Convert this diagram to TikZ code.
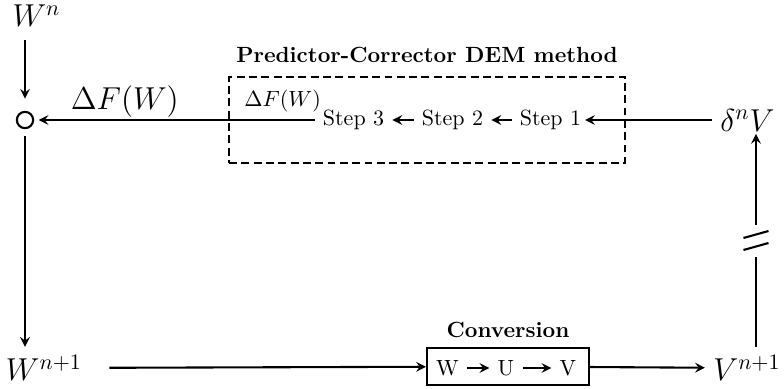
\documentclass[tikz,border=0pt]{standalone}
\usepackage{amsmath}
\usepackage{amsfonts}
\usepackage{amssymb}
\usetikzlibrary{calc}

\begin{document}
\begin{tikzpicture}[x=0.4545pt,y=0.4545pt,yscale=-1,xscale=1,>=stealth,line width=0.95pt,
                bigmath/.style={font=\Large}]
                \useasboundingbox (0,0) rectangle (784,389);
                
                % Text Node
                \node [bigmath] (wn) at (36.5,16) {$W^n$};
                \node [bigmath] (dnv) at (747.5,120) {$\delta^n V$};
                \node [bigmath] (wn1) at (44,368) {$W^{n+1}$};
                \node [bigmath] (vn1) at (747,368) {$V^{n+1}$};
                %Circle
                \node [draw,circle,inner sep=0pt,minimum size=7.4pt] (circ) at (25,120) {};
                
                %Dashed box
                \node [draw,dash pattern=on 3.6pt off 2pt,minimum width=180pt,minimum height=39.1pt] (dem) at (427,120) {};
                \node [anchor=base] (demt) at (427,62) {\textbf{Predictor-Corrector DEM method}};
                \node (s1) at (550.5,120) {Step 1};
                \node (s2) at (452.5,120) {Step 2};
                \node (s3) at (353.5,120) {Step 3};
                
                %Conversion box
                \node [draw,minimum width=73.6pt,minimum height=16.8pt] (conv) at (508,366.5) {};
                \node [anchor=base] (convt) at (508,337) {\textbf{Conversion}};
                \node (cw) at (447.5,368) {W};
                \node (cu) at (506,368) {U};
                \node (cv) at (568,368) {V};
                
                %Straight Lines
                \draw [->,shorten >=-2pt] (dnv) -- (s1);
                \draw [->] (s1) -- (s2);
                \draw [->] (s2) -- (s3);
                \draw [->,shorten >=2pt] (s3) -- node [pos=0.677,above,inner sep=0.5pt] (lbl1) {\Large $\Delta F(W)$}
                        node [pos=0.114,above] (lbl2) {$\Delta F(W)$} (circ);
                \draw [->,shorten <=2pt,shorten >=5.5pt] (wn.south -| circ) -- (circ);
                \draw [->,shorten <=3pt] (circ) -- (circ |- wn1.north);
                \draw [->,shorten <=8.6pt] (wn1) -- (conv);
                \draw [->] (conv) -- (vn1);
                \draw [->] (cw) -- (cu);
                \draw [->] (cu) -- (cv);
                
                %Broken line
                \coordinate (brk) at (756,241);
                \coordinate (brk1) at (756,257);
                \coordinate (brk2) at (756,225);
                \draw (vn1.north -| brk1) -- (brk1);
                \draw [->,shorten >=-2.5pt] (brk2) -- (brk2 |- dnv.south);
                \draw (brk) ++(-12.5,9) -- ++(25,-7);
                \draw (brk) ++(-12.5,-3) -- ++(25,-7);
        \end{tikzpicture}
\end{document}
